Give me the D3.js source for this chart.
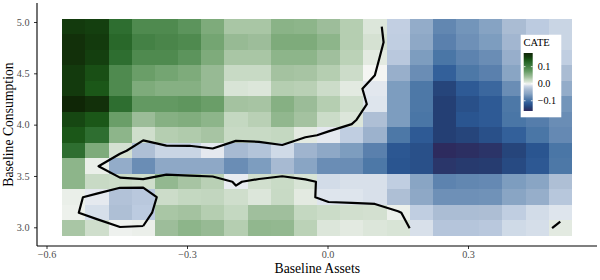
<!DOCTYPE html>
<html>
<head>
<meta charset="utf-8">
<script src="https://cdn.jsdelivr.net/npm/d3@7"></script>
<style>
body { margin: 0; background: #fff; }
svg { display: block; font-family: "Liberation Serif", "Times New Roman", serif; }
</style>
</head>
<body>
<div id="chart"></div>
<script>
// tile centres of the grid
const xCenters = [-0.542, -0.493, -0.443, -0.394, -0.344, -0.295, -0.245, -0.196, -0.146, -0.097, -0.047,
                  0.002, 0.052, 0.101, 0.151, 0.200, 0.250, 0.299, 0.349, 0.398, 0.448, 0.497];
// top row first
const yCenters = [4.954, 4.803, 4.652, 4.501, 4.350, 4.199, 4.048, 3.897, 3.746, 3.595, 3.444, 3.293, 3.142, 2.991];

// CATE per tile, one array per row (top to bottom)
const cate = [
  [0.16, 0.155, 0.12, 0.09, 0.09, 0.08, 0.06, 0.035, 0.035, 0.052, 0.05, 0.042, 0.03, 0.008, -0.019, -0.05, -0.08, -0.07, -0.06, -0.033, -0.022, -0.015],
  [0.17, 0.16, 0.125, 0.10, 0.095, 0.09, 0.065, 0.045, 0.042, 0.06, 0.06, 0.05, 0.03, 0.012, -0.02, -0.055, -0.085, -0.073, -0.065, -0.038, -0.028, -0.015],
  [0.17, 0.155, 0.12, 0.09, 0.09, 0.08, 0.06, 0.035, 0.035, 0.05, 0.05, 0.04, 0.027, 0.006, -0.024, -0.065, -0.095, -0.083, -0.075, -0.046, -0.035, -0.02],
  [0.16, 0.145, 0.09, 0.07, 0.065, 0.06, 0.045, 0.02, 0.02, 0.038, 0.036, 0.03, 0.017, 0.001, -0.045, -0.075, -0.11, -0.093, -0.085, -0.058, -0.045, -0.033],
  [0.16, 0.14, 0.09, 0.06, 0.055, 0.055, 0.045, 0.01, 0.008, 0.03, 0.028, 0.017, 0.006, -0.007, -0.065, -0.093, -0.135, -0.115, -0.105, -0.075, -0.068, -0.05],
  [0.18, 0.17, 0.12, 0.075, 0.075, 0.078, 0.07, 0.038, 0.036, 0.055, 0.043, 0.03, 0.015, -0.008, -0.065, -0.093, -0.14, -0.125, -0.115, -0.093, -0.085, -0.07],
  [0.15, 0.14, 0.07, 0.043, 0.055, 0.058, 0.05, 0.022, 0.028, 0.048, 0.038, 0.018, 0.008, -0.03, -0.065, -0.095, -0.14, -0.12, -0.115, -0.095, -0.088, -0.075],
  [0.14, 0.12, 0.05, 0.015, 0.03, 0.032, 0.036, 0.02, 0.02, 0.022, 0.006, -0.006, -0.02, -0.042, -0.093, -0.115, -0.14, -0.135, -0.125, -0.11, -0.095, -0.078],
  [0.12, 0.06, 0.012, -0.03, -0.015, -0.015, -0.006, -0.035, -0.027, -0.013, -0.04, -0.055, -0.065, -0.085, -0.118, -0.125, -0.16, -0.156, -0.15, -0.135, -0.12, -0.095],
  [0.05, 0.004, -0.05, -0.075, -0.055, -0.055, -0.055, -0.075, -0.065, -0.035, -0.058, -0.075, -0.075, -0.093, -0.12, -0.125, -0.148, -0.145, -0.143, -0.13, -0.117, -0.093],
  [0.05, 0.02, 0.018, 0.015, 0.047, 0.036, 0.028, -0.005, 0.014, 0.019, 0.01, -0.012, -0.01, -0.01, -0.02, -0.058, -0.083, -0.08, -0.078, -0.065, -0.058, -0.03],
  [0.004, -0.006, -0.028, -0.024, 0.017, 0.022, 0.023, 0.015, 0.008, 0.02, 0.006, -0.008, -0.008, -0.01, -0.03, -0.055, -0.073, -0.073, -0.072, -0.058, -0.047, -0.025],
  [0.003, -0.0106, -0.03, -0.022, 0.035, 0.038, 0.03, 0.022, 0.04, 0.04, 0.022, 0.018, 0.014, 0.013, 0.0033, -0.02, -0.032, -0.032, -0.031, -0.02, -0.012, -0.008],
  [0.035, 0.015, 0.0026, 0.0037, 0.042, 0.05, 0.045, 0.03, 0.048, 0.047, 0.027, 0.008, 0.006, 0.008, 0.01, -0.01, -0.026, -0.026, -0.024, -0.013, -0.011, 0.006]
];

const xTicks = [-0.6, -0.3, 0, 0.3];
const yTicks = [3, 3.5, 4, 4.5, 5];
const legendTicks = [-0.1, 0, 0.1];

// fill palette (value -> colour)
const palette = [
  [-0.16, '#2d2b5e'], [-0.15, '#2b3468'], [-0.14, '#243f74'], [-0.12, '#2a5590'], [-0.11, '#33609a'],
  [-0.095, '#4a76a6'], [-0.085, '#5a80ad'], [-0.075, '#6a8db5'], [-0.065, '#7d9dbf'], [-0.055, '#8ea8c6'],
  [-0.045, '#98afcb'], [-0.03, '#aebfd5'], [-0.022, '#bccbe0'], [-0.015, '#c9d5e4'], [0, '#f7f7f7'],
  [0.008, '#dce6da'], [0.015, '#cfdecc'], [0.02, '#c8dac5'], [0.03, '#b5ceb1'], [0.036, '#a7c4a3'],
  [0.043, '#9bbc98'], [0.05, '#8db58a'], [0.06, '#7eab7b'], [0.07, '#6a9e68'], [0.078, '#5f965e'],
  [0.09, '#4f8a4f'], [0.12, '#2e6e30'], [0.14, '#1b5718'], [0.155, '#143f0f'], [0.17, '#12300a'], [0.18, '#0f2606']
];

const W = 600, H = 280;
const panel = {left: 37, right: 597, top: 3, bottom: 246};

const svg = d3.select('#chart').append('svg').attr('width', W).attr('height', H);

const x = d3.scaleLinear().domain([-0.6, 0.3]).range([46.5, 468]);
const y = d3.scaleLinear().domain([3, 5]).range([227.3, 22]);
const color = d3.scaleLinear()
  .domain(palette.map(d => d[0]))
  .range(palette.map(d => d[1]))
  .clamp(true);

// tiles
const dx = xCenters[1] - xCenters[0], dy = yCenters[0] - yCenters[1];
const cells = [];
cate.forEach((row, i) => row.forEach((v, j) => cells.push({x: xCenters[j], y: yCenters[i], v: v})));

svg.append('g')
  .attr('shape-rendering', 'crispEdges')
  .selectAll('rect')
  .data(cells)
  .join('rect')
  .attr('x', d => x(d.x - dx / 2))
  .attr('y', d => y(d.y + dy / 2))
  .attr('width', d => x(d.x + dx / 2) - x(d.x - dx / 2) + 0.5)
  .attr('height', d => y(d.y - dy / 2) - y(d.y + dy / 2) + 0.5)
  .attr('fill', d => color(d.v));

// zero contour, from the same grid
const nx = xCenters.length, ny = yCenters.length;
const zero = d3.contours().size([nx, ny]).thresholds([0])(cate.flat())[0];
// contour coords: tile j centre sits at j + 0.5
const gx = d3.scaleLinear().domain([0.5, nx - 0.5]).range([x(xCenters[0]), x(xCenters[nx - 1])]);
const gy = d3.scaleLinear().domain([0.5, ny - 0.5]).range([y(yCenters[0]), y(yCenters[ny - 1])]);

const lo = 0.5, hiX = nx - 0.5, hiY = ny - 0.5, eps = 1e-6;
const clampP = p => [Math.min(hiX, Math.max(lo, p[0])), Math.min(hiY, Math.max(lo, p[1]))];
const same = (a, b, k, v) => Math.abs(a[k] - v) < eps && Math.abs(b[k] - v) < eps;
// segments that just run along the grid border are not part of the line
const onBorder = (a, b) => same(a, b, 0, lo) || same(a, b, 0, hiX) || same(a, b, 1, lo) || same(a, b, 1, hiY);

const lines = [];
zero.coordinates.forEach(poly => poly.forEach(ring => {
  const pts = ring.map(clampP);
  const n = pts.length - 1;
  const keep = d3.range(n).map(i => !onBorder(pts[i], pts[i + 1]));
  const start = keep.indexOf(false);
  if (start < 0) { lines.push(pts); return; }
  let cur = null;
  for (let k = 1; k <= n; k++) {
    const i = (start + k) % n;
    if (keep[i]) {
      if (!cur) cur = [pts[i]];
      cur.push(pts[i + 1]);
    } else if (cur) {
      lines.push(cur);
      cur = null;
    }
  }
  if (cur) lines.push(cur);
}));

const line = d3.line().x(p => gx(p[0])).y(p => gy(p[1]));
svg.append('g')
  .selectAll('path')
  .data(lines)
  .join('path')
  .attr('d', line)
  .attr('fill', 'none')
  .attr('stroke', '#000')
  .attr('stroke-width', 2.2)
  .attr('stroke-linejoin', 'round');

// axes
const fmt = d3.format('.1f');
const xAxis = svg.append('g')
  .attr('transform', `translate(0,${panel.bottom})`)
  .call(d3.axisBottom(x).tickValues(xTicks).tickFormat(fmt).tickSize(3).tickPadding(2));
const yAxis = svg.append('g')
  .attr('transform', `translate(${panel.left},0)`)
  .call(d3.axisLeft(y).tickValues(yTicks).tickFormat(fmt).tickSize(3).tickPadding(4.5));

[xAxis, yAxis].forEach(ax => {
  ax.attr('font-family', null).attr('font-size', null);
  ax.select('.domain').remove();
  ax.selectAll('.tick line').attr('stroke', '#333').attr('stroke-width', 1);
  ax.selectAll('.tick text').attr('fill', '#4d4d4d').style('font-size', '10.2px');
});

svg.append('line')
  .attr('x1', panel.left).attr('x2', panel.right)
  .attr('y1', panel.bottom).attr('y2', panel.bottom)
  .attr('stroke', '#000').attr('stroke-width', 1.1);
svg.append('line')
  .attr('x1', panel.left).attr('x2', panel.left)
  .attr('y1', panel.top).attr('y2', panel.bottom)
  .attr('stroke', '#000').attr('stroke-width', 1.1);

svg.append('text')
  .attr('x', 317.3).attr('y', 273)
  .attr('text-anchor', 'middle')
  .style('font-size', '13.7px')
  .text('Baseline Assets');
svg.append('text')
  .attr('transform', `translate(13,${(panel.top + panel.bottom) / 2}) rotate(-90)`)
  .attr('text-anchor', 'middle')
  .style('font-size', '13.7px')
  .text('Baseline Consumption');

// legend
const [vmin, vmax] = d3.extent(cate.flat());
const lg = svg.append('g');
lg.append('rect')
  .attr('x', 520.7).attr('y', 34.7).attr('width', 40.6).attr('height', 82.6)
  .attr('fill', '#fff');
lg.append('text')
  .attr('x', 523.5).attr('y', 46)
  .style('font-size', '10.5px')
  .text('CATE');

const ly = d3.scaleLinear().domain([vmin, vmax]).range([111, 53]);
const grad = svg.append('defs').append('linearGradient')
  .attr('id', 'cateGrad')
  .attr('x1', 0).attr('y1', 1).attr('x2', 0).attr('y2', 0);
grad.selectAll('stop')
  .data(d3.range(0, 1.0001, 0.02))
  .join('stop')
  .attr('offset', t => t)
  .attr('stop-color', t => color(vmin + t * (vmax - vmin)));

const barX = 523.7, barW = 9;
lg.append('rect')
  .attr('x', barX).attr('y', ly(vmax))
  .attr('width', barW).attr('height', ly(vmin) - ly(vmax))
  .attr('fill', 'url(#cateGrad)');

lg.selectAll('.lt')
  .data(legendTicks)
  .join('g')
  .each(function (t) {
    const g = d3.select(this);
    g.append('line').attr('x1', barX).attr('x2', barX + 1.8).attr('y1', ly(t)).attr('y2', ly(t))
      .attr('stroke', '#fff').attr('stroke-width', 0.8);
    g.append('line').attr('x1', barX + barW - 1.8).attr('x2', barX + barW).attr('y1', ly(t)).attr('y2', ly(t))
      .attr('stroke', '#fff').attr('stroke-width', 0.8);
    g.append('text').attr('x', 537.7).attr('y', ly(t)).attr('dy', '0.35em')
      .style('font-size', '10.2px')
      .text(fmt(t));
  });
</script>
</body>
</html>
